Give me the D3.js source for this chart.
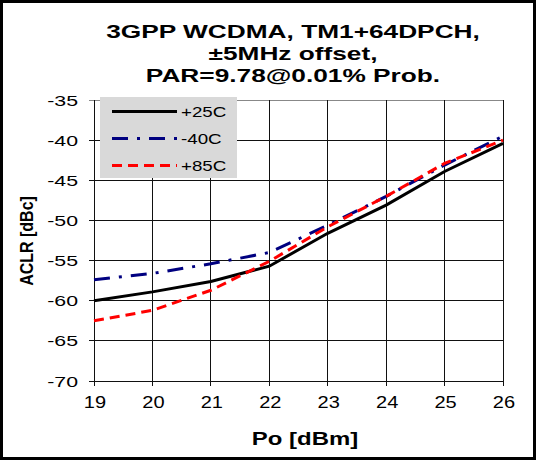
<!DOCTYPE html>
<html><head><meta charset="utf-8">
<script src="https://cdn.jsdelivr.net/npm/d3@7/dist/d3.min.js"></script>
<style>body{margin:0;background:#fff}svg{display:block}text{font-family:"Liberation Sans",Arial,sans-serif}</style>
</head><body><svg id="c" width="537" height="461"></svg>
<script>
const po = [19, 20, 21, 22, 23, 24, 25, 26];
const aclr25 = [-60.0, -58.9, -57.6, -55.7, -51.6, -48.1, -43.9, -40.4];
const aclrM40 = [-57.4, -56.6, -55.4, -54.0, -50.6, -47.0, -43.1, -39.5];
const aclr85 = [-62.5, -61.2, -58.7, -55.1, -50.8, -47.0, -42.9, -40.0];
const yTicks = [-35, -40, -45, -50, -55, -60, -65, -70];
const seriesNames = ["+25C", "-40C", "+85C"];
const titleLines = ["3GPP WCDMA, TM1+64DPCH,", "\u00b15MHz offset,", "PAR=9.78@0.01% Prob."];

const svg = d3.select("#c");
svg.append("rect").attr("x",1.5).attr("y",1.5).attr("width",533).attr("height",457)
  .attr("fill","#fff").attr("stroke","#000").attr("stroke-width",3);

const L=94, R=503, T=100, B=381;
const x = d3.scaleLinear().domain([19,26]).range([L,R]);
const y = d3.scaleLinear().domain([-70,-35]).range([B,T]);

// helper for horizontally stretched text
function stext(sel, cx, cy, sx, anchor){
  return sel.attr("transform",`translate(${cx},${cy}) scale(${sx},1)`).attr("text-anchor",anchor);
}

// grid
const g = svg.append("g");
g.selectAll(".hg").data(yTicks).enter().append("line")
  .attr("x1",L-5).attr("x2",R).attr("y1",d=>y(d)).attr("y2",d=>y(d))
  .attr("stroke",d=>d===-35?"#888":"#111").attr("stroke-width",1).attr("shape-rendering","crispEdges");
g.selectAll(".vg").data(po).enter().append("line")
  .attr("x1",d=>x(d)).attr("x2",d=>x(d)).attr("y1",T).attr("y2",B+5)
  .attr("stroke","#111").attr("stroke-width",1).attr("shape-rendering","crispEdges");

// tick labels
g.selectAll(".yl").data(yTicks).enter().append("text")
  .each(function(d){ stext(d3.select(this),78,y(d)+5.5,1.42,"end"); })
  .attr("font-size",15).text(d=>d);
g.selectAll(".xl").data(po).enter().append("text")
  .each(function(d){ stext(d3.select(this),x(d)+1,408,1.25,"middle"); })
  .attr("font-size",16).text(d=>d);

// axis titles
stext(svg.append("text"),305,445,1.33,"middle")
  .attr("font-size",18).attr("font-weight","bold").text("Po [dBm]");
svg.append("text").attr("transform","translate(33,241) rotate(-90) scale(1,1.2)").attr("text-anchor","middle")
  .attr("font-size",16).attr("font-weight","bold").text("ACLR [dBc]");

// title
svg.selectAll(".tt").data(titleLines).enter().append("text")
  .each(function(d,i){ stext(d3.select(this),293,38+i*22,1.42,"middle"); })
  .attr("font-size",18.5).attr("font-weight","bold").text(d=>d);

const styles = [
  {data:aclr25, color:"#000", dash:null},
  {data:aclrM40, color:"#000080", dash:"16,9,3,9"},
  {data:aclr85, color:"#ff0000", dash:"10,6"}
];
const line = d3.line().x((d,i)=>x(po[i])).y(d=>y(d));

// legend
const lg = svg.append("g");
lg.append("rect").attr("x",100).attr("y",97).attr("width",137).attr("height",81).attr("fill","#d9d9d9");
styles.forEach((s,i)=>{
  const yy = 111.5 + i*27;
  lg.append("line").attr("x1",112).attr("x2",177).attr("y1",yy).attr("y2",yy)
    .attr("stroke",s.color).attr("stroke-width",3).attr("stroke-dasharray",s.dash);
  stext(lg.append("text"),181,yy+5.5,1.25,"start").attr("font-size",15).text(seriesNames[i]);
});

// lines
styles.forEach(s=>{
  svg.append("path").datum(s.data).attr("d",line).attr("fill","none")
    .attr("stroke",s.color).attr("stroke-width",3).attr("stroke-dasharray",s.dash);
});
</script></body></html>
